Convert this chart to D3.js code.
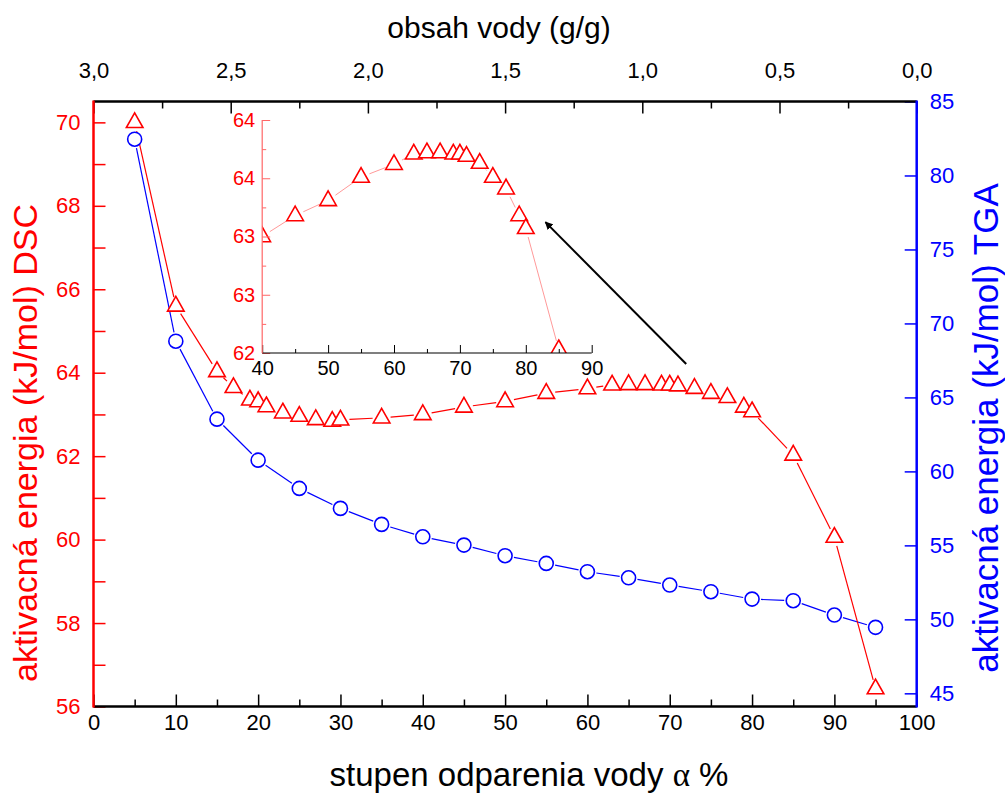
<!DOCTYPE html>
<html><head><meta charset="utf-8">
<script src="https://cdn.jsdelivr.net/npm/d3@7"></script>
<style>body{margin:0;background:#fff}svg{display:block;font-family:"Liberation Sans",Arial,sans-serif}</style>
</head><body><svg id="c" width="1005" height="796"></svg>
<script>
// ---- data ----
const dscX = [5,10,15,17,19,20,21,23,25,27,29,30,35,40,45,50,55,60,63,65,67,69,70,71,73,75,77,79,80,85,90,95];
const dscY = [70.0,65.6,64.03,63.65,63.35,63.31,63.19,63.04,62.96,62.88,62.84,62.87,62.92,63.0,63.18,63.31,63.51,63.62,63.71,63.72,63.72,63.71,63.71,63.69,63.63,63.51,63.41,63.18,63.07,62.03,60.06,56.43];
const tgaX = [5,10,15,20,25,30,35,40,45,50,55,60,65,70,75,80,85,90,95];
const tgaY = [82.45,68.8,63.53,60.76,58.85,57.5,56.42,55.58,55.02,54.3,53.78,53.22,52.81,52.32,51.87,51.37,51.26,50.29,49.46];
const bottomTicks = [0,10,20,30,40,50,60,70,80,90,100];
const leftTicks = [56,58,60,62,64,66,68,70];
const rightTicks = [45,50,55,60,65,70,75,80,85];
const topTicks = [3.0,2.5,2.0,1.5,1.0,0.5,0.0];
const insetXTicks = [40,50,60,70,80,90];
const insetYTicks = [62,62.5,63,63.5,64];
const arrowFrom = [72.0, 64.21], arrowTo = [54.9, 67.61];

const RED = "#ff0000", BLUE = "#0000ff";
const svg = d3.select("#c");
const L = 93.5, R = 916.7, T = 101.5, B = 706.5;
const x = d3.scaleLinear().domain([0,100]).range([L,R]);
const xTop = d3.scaleLinear().domain([3,0]).range([L,R]);
const yL = d3.scaleLinear().domain([56,70.5]).range([B,T]);
const yR = d3.scaleLinear().domain([44.11,85]).range([B,T]);

const iL = 262.2, iR = 591.7, iT = 120, iB = 353;
const ix = d3.scaleLinear().domain([40,90]).range([iL,iR]);
const iy = d3.scaleLinear().domain([62,64]).range([iB,iT]);

const comma = d => d3.format(".1f")(d).replace(".", ",");

function styleAxis(g, color, fs) {
  g.select(".domain").remove();
  g.selectAll(".tick line").attr("stroke", color).attr("stroke-width", 1.5);
  g.selectAll(".tick text").attr("fill", color).attr("font-size", fs).attr("font-family", '"Liberation Sans",Arial,sans-serif');
}

// bottom axis
const gB = svg.append("g").attr("transform", `translate(0,${B})`)
  .call(d3.axisTop(x).tickValues(bottomTicks).tickSize(12).tickPadding(-35));
styleAxis(gB, "#000", 22);
gB.selectAll(".tick text").attr("dy", "0");
svg.append("g").attr("transform", `translate(0,${B})`)
  .call(d3.axisTop(x).tickValues(d3.range(5,100,10)).tickSize(7).tickFormat(""))
  .call(g => styleAxis(g, "#000", 22));
// top axis
const gT = svg.append("g").attr("transform", `translate(0,${T})`)
  .call(d3.axisBottom(xTop).tickValues(topTicks).tickSize(12).tickFormat(comma).tickPadding(-36));
styleAxis(gT, "#000", 22);
gT.selectAll(".tick text").attr("dy", "0");
svg.append("g").attr("transform", `translate(0,${T})`)
  .call(d3.axisBottom(xTop).tickValues([2.75,2.25,1.75,1.25,0.75,0.25]).tickSize(7).tickFormat(""))
  .call(g => styleAxis(g, "#000", 22));
// left axis
const gL = svg.append("g").attr("transform", `translate(${L},0)`)
  .call(d3.axisRight(yL).tickValues(leftTicks).tickSize(12));
styleAxis(gL, RED, 22);
gL.selectAll(".tick text").attr("text-anchor", "end").attr("x", -13);
svg.append("g").attr("transform", `translate(${L},0)`)
  .call(d3.axisRight(yL).tickValues([57,59,61,63,65,67,69]).tickSize(12).tickFormat(""))
  .call(g => styleAxis(g, RED, 22));
// right axis
const gR = svg.append("g").attr("transform", `translate(${R},0)`)
  .call(d3.axisLeft(yR).tickValues(rightTicks).tickSize(12));
styleAxis(gR, BLUE, 22);
gR.selectAll(".tick text").attr("text-anchor", "start").attr("x", 13);

// frame lines
svg.append("line").attr("x1", L).attr("x2", R).attr("y1", B).attr("y2", B).attr("stroke", "#000").attr("stroke-width", 2.5);
svg.append("line").attr("x1", L).attr("x2", R).attr("y1", T).attr("y2", T).attr("stroke", "#000").attr("stroke-width", 2.5);
svg.append("line").attr("x1", L).attr("x2", L).attr("y1", T-1).attr("y2", B+1).attr("stroke", RED).attr("stroke-width", 2.5);
svg.append("line").attr("x1", R).attr("x2", R).attr("y1", T-1).attr("y2", B+1).attr("stroke", BLUE).attr("stroke-width", 2.5);

// gapped segments
function gapLines(g, pts, gap, color, w) {
  for (let i = 0; i < pts.length - 1; i++) {
    const [x1,y1] = pts[i], [x2,y2] = pts[i+1];
    const dx = x2-x1, dy = y2-y1, len = Math.hypot(dx,dy);
    if (len <= 2*gap) continue;
    const ux = dx/len, uy = dy/len;
    g.append("line").attr("x1", x1+ux*gap).attr("y1", y1+uy*gap)
      .attr("x2", x2-ux*gap).attr("y2", y2-uy*gap)
      .attr("stroke", color).attr("stroke-width", w);
  }
}
function triangles(g, pts) {
  g.selectAll(null).data(pts).enter().append("path")
    .attr("d", "M0,-9.5L8.3,5.2L-8.3,5.2Z")
    .attr("transform", d => `translate(${d[0]},${d[1]})`)
    .attr("fill", "#fff").attr("stroke", RED).attr("stroke-width", 1.6);
}

// main series
const dscPts = dscX.map((v,i) => [x(v), yL(dscY[i])]);
const tgaPts = tgaX.map((v,i) => [x(v), yR(tgaY[i])]);
const gMain = svg.append("g");
gapLines(gMain, tgaPts, 9, BLUE, 1.2);
gapLines(gMain, dscPts, 9, RED, 1.2);
gMain.selectAll("circle").data(tgaPts).enter().append("circle")
  .attr("cx", d => d[0]).attr("cy", d => d[1]).attr("r", 7)
  .attr("fill", "#fff").attr("stroke", BLUE).attr("stroke-width", 1.6);
triangles(gMain, dscPts);

// inset
svg.append("clipPath").attr("id", "ic").append("rect")
  .attr("x", iL).attr("y", iT - 14).attr("width", iR - iL).attr("height", iB - iT + 14);
const gI = svg.append("g").attr("clip-path", "url(#ic)");
const insetPts = dscX.map((v,i) => [ix(v), iy(dscY[i])]);
gapLines(gI, insetPts, 9, "#ff9999", 1);
triangles(gI, insetPts.filter((d,i) => dscX[i] >= 40 && dscX[i] <= 90));

const gIB = svg.append("g").attr("transform", `translate(0,${iB})`)
  .call(d3.axisTop(ix).tickValues(insetXTicks).tickSize(8).tickPadding(-30));
styleAxis(gIB, "#000", 20);
gIB.selectAll(".tick line").attr("stroke-width", 1);
gIB.selectAll(".tick text").attr("dy", "0");
svg.append("g").attr("transform", `translate(0,${iB})`)
  .call(d3.axisTop(ix).tickValues([45,55,65,75,85]).tickSize(4).tickFormat(""))
  .call(g => { styleAxis(g, "#000", 20); g.selectAll(".tick line").attr("stroke-width", 1); });
const gIL = svg.append("g").attr("transform", `translate(${iL},0)`)
  .call(d3.axisRight(iy).tickValues(insetYTicks).tickSize(8).tickFormat(d3.format(".0f")));
styleAxis(gIL, RED, 20);
gIL.selectAll(".tick line").attr("stroke", "#ff6666").attr("stroke-width", 1);
gIL.selectAll(".tick text").attr("text-anchor", "end").attr("x", -7);
svg.append("g").attr("transform", `translate(${iL},0)`)
  .call(d3.axisRight(iy).tickValues([62.25,62.75,63.25,63.75]).tickSize(4).tickFormat(""))
  .call(g => { styleAxis(g, RED, 20); g.selectAll(".tick line").attr("stroke", "#ff6666").attr("stroke-width", 1); });
svg.append("line").attr("x1", iL).attr("x2", iR).attr("y1", iB).attr("y2", iB).attr("stroke", "#000").attr("stroke-width", 1.2);
svg.append("line").attr("x1", iL).attr("x2", iL).attr("y1", iT).attr("y2", iB).attr("stroke", "#ff6666").attr("stroke-width", 1.2);

// arrow
svg.append("defs").append("marker").attr("id", "ah").attr("viewBox", "0 0 10 10")
  .attr("refX", 9).attr("refY", 5).attr("markerWidth", 8).attr("markerHeight", 8)
  .attr("markerUnits", "userSpaceOnUse").attr("orient", "auto")
  .append("path").attr("d", "M0,0L10,5L0,10Z").attr("fill", "#000");
svg.append("line")
  .attr("x1", x(arrowFrom[0])).attr("y1", yL(arrowFrom[1]))
  .attr("x2", x(arrowTo[0])).attr("y2", yL(arrowTo[1]))
  .attr("stroke", "#000").attr("stroke-width", 2).attr("marker-end", "url(#ah)");

// titles
svg.append("text").attr("x", 499).attr("y", 38).attr("text-anchor", "middle")
  .attr("font-size", 30).text("obsah vody (g/g)");
const bt = svg.append("text").attr("x", 529).attr("y", 786).attr("text-anchor", "middle").attr("font-size", 33);
bt.append("tspan").text("stupen odparenia vody ");
bt.append("tspan").attr("font-family", '"Liberation Serif","DejaVu Serif",serif').text("α");
bt.append("tspan").text(" %");
svg.append("text").attr("transform", "translate(37,443) rotate(-90)").attr("text-anchor", "middle")
  .attr("font-size", 34).attr("fill", RED).text("aktivacná energia (kJ/mol) DSC");
svg.append("text").attr("transform", "translate(998,428) rotate(-90)").attr("text-anchor", "middle")
  .attr("font-size", 35).attr("fill", BLUE).text("aktivacná energia (kJ/mol) TGA");
</script></body></html>
